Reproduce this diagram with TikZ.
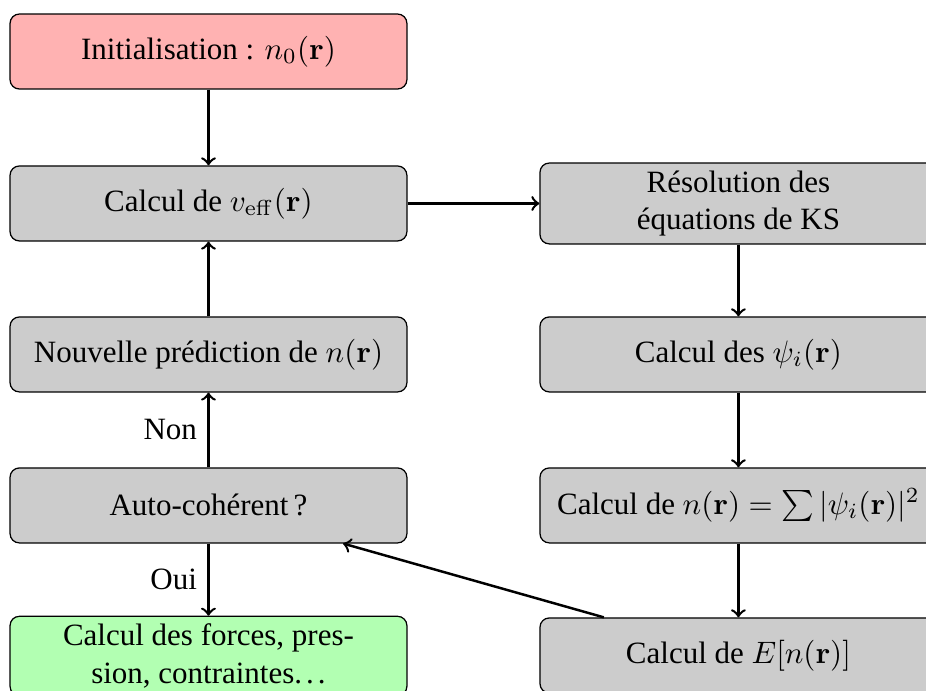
\documentclass[tikz,border=0pt]{standalone}
\usepackage[no-math]{fontspec}
\setmainfont{Liberation Serif}
\begin{document}
\begin{tikzpicture}[bloc/.style={rectangle, draw, rounded corners=3pt, fill=black!20, minimum width=4.5cm, minimum height=0.85cm, inner ysep=2.5pt, align=center}, fleche/.style={->, thick}]
\useasboundingbox (0,0) rectangle (10.5,-7.834);
\node[bloc, fill=red!30] (bloc0) at (2.364,-0.584){Initialisation : $n_0(\mathbf{r})$};
\node[bloc] (bloc1) at (2.364,-2.307){Calcul de $v_{\mathrm{eff}}(\mathbf{r})$};
\draw[fleche](bloc0) -- (bloc1);
\node[bloc] (bloc2) at (2.364,-4.019){Nouvelle prédiction de $n(\mathbf{r})$};
\draw[fleche](bloc2) -- (bloc1);
\node[bloc] (bloc3) at (2.364,-5.731){Auto-cohérent\,?};
\draw[fleche](bloc3) -- node[left]{Non} (bloc2);
\node[bloc, fill=green!30] (bloc4) at (2.364,-7.438){Calcul des forces, pres-\\sion, contraintes.\kern0.13em.\kern0.13em.};
\draw[fleche](bloc3) -- node[left]{Oui} (bloc4);
\node[bloc] (bloc5) at (8.373,-2.307){Résolution des\\équations de KS};
\draw[fleche](bloc1) -- (bloc5);
\node[bloc] (bloc6) at (8.373,-4.019){Calcul des $\psi_i(\mathbf{r})$};
\draw[fleche](bloc5) -- (bloc6);
\node[bloc] (bloc7) at (8.373,-5.731){Calcul de $n(\mathbf{r}) = \sum |\psi_i(\mathbf{r})|^2$};
\draw[fleche](bloc6) -- (bloc7);
\node[bloc] (bloc8) at (8.373,-7.432){Calcul de $E[n(\mathbf{r})]$};
\draw[fleche](bloc7) -- (bloc8);
\draw[fleche](bloc8) -- (bloc3);
\end{tikzpicture}
\end{document}
